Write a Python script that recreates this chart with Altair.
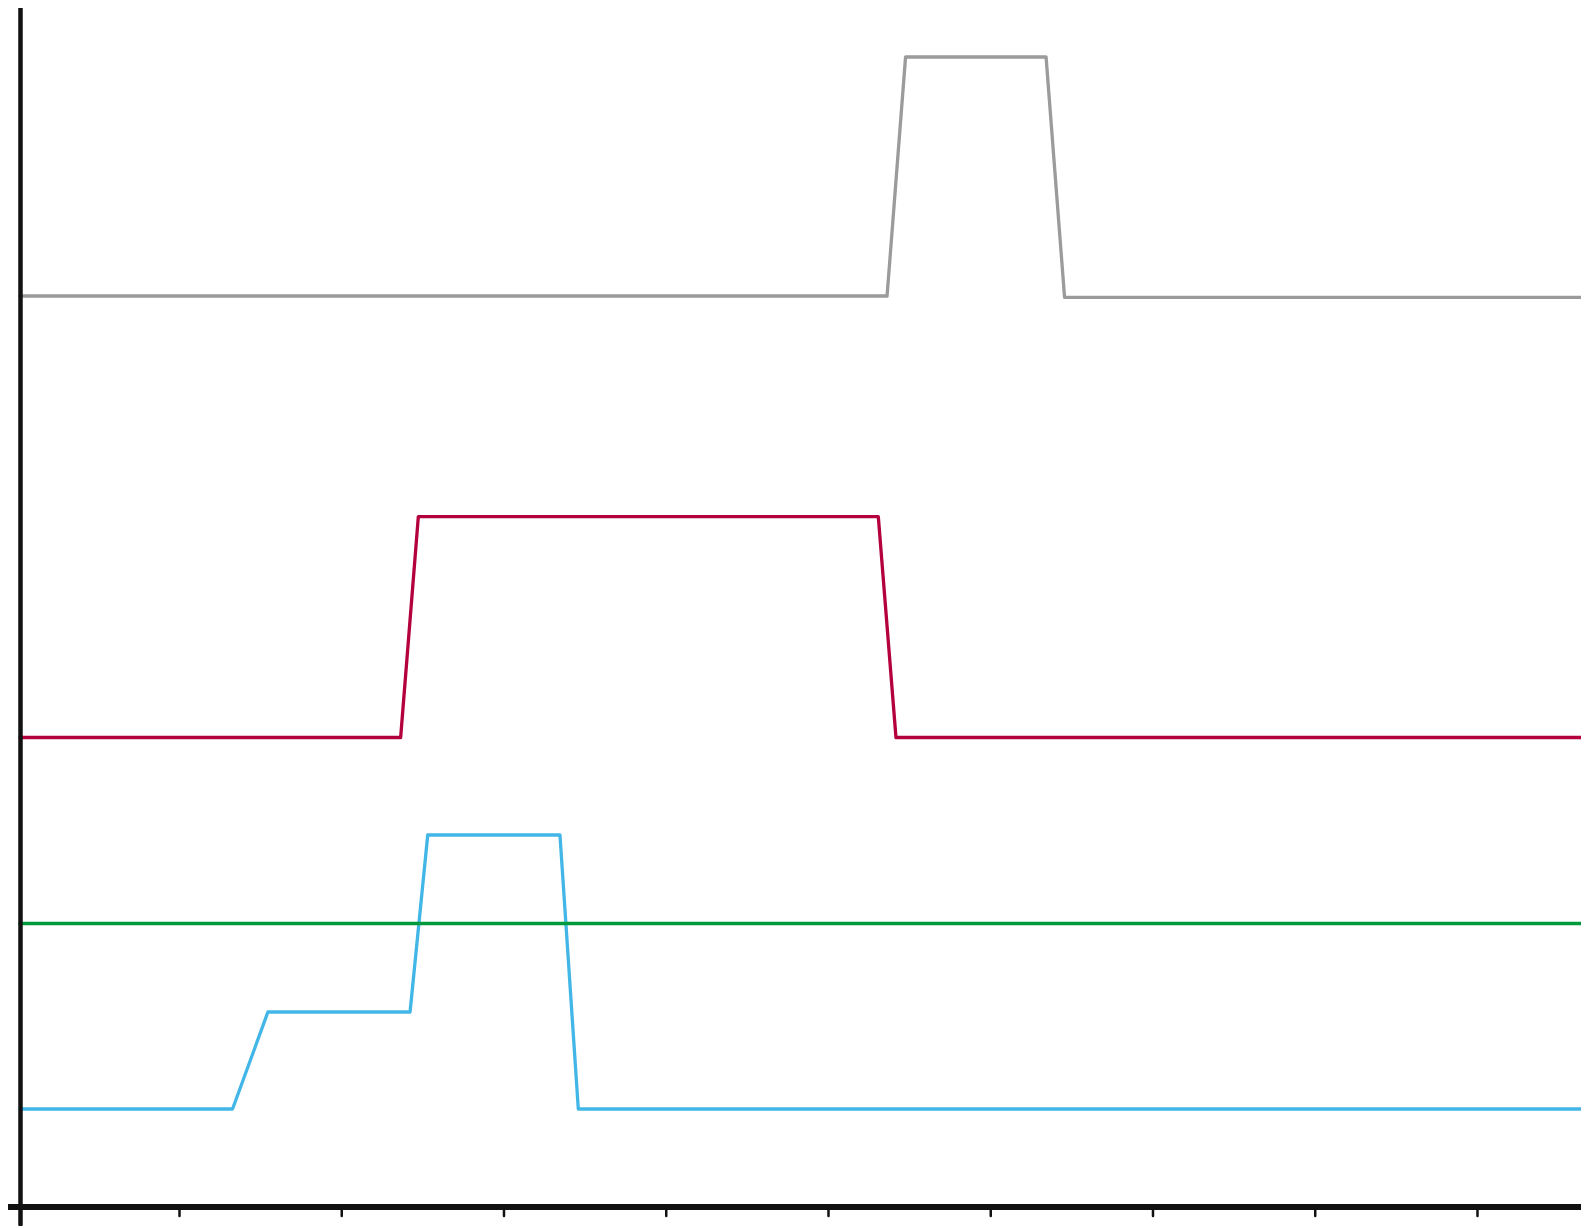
import altair as alt
import pandas as pd

# ---- data (time units on x, arbitrary level units on y) ----
gray_t = [0.017, 5.361, 5.475, 6.341, 6.455, 9.676]
gray_v = [91.1, 91.1, 115.0, 115.0, 90.97, 90.97]

crimson_t = [0.017, 2.363, 2.472, 5.307, 5.416, 9.676]
crimson_v = [46.95, 46.95, 69.03, 69.03, 46.95, 46.95]

green_t = [0.017, 9.676]
green_v = [28.35, 28.35]

blue_t = [0.017, 1.327, 1.545, 2.421, 2.530, 3.345, 3.458, 9.676]
blue_v = [9.8, 9.8, 19.5, 19.5, 37.2, 37.2, 9.8, 9.8]

tick_values = [1, 2, 3, 4, 5, 6, 7, 8, 9]

series = [
    ("gray", gray_t, gray_v, "#9b9b9b"),
    ("crimson", crimson_t, crimson_v, "#b5003f"),
    ("blue", blue_t, blue_v, "#42b6e6"),
    ("green", green_t, green_v, "#009a3c"),
]

W, H = 1573, 1218
X_DOMAIN = [-0.057, 9.638]
Y_DOMAIN = [-1.9, 119.9]
xs = alt.Scale(domain=X_DOMAIN, nice=False, zero=False)
ys = alt.Scale(domain=Y_DOMAIN, nice=False, zero=False)

layers = []

# axis lines
xaxis_df = pd.DataFrame({"t": [-0.09], "t2": [9.676], "v": [0.0]})
yaxis_df = pd.DataFrame({"t": [0.02], "v": [-1.75], "v2": [120.4]})
ticks_df = pd.DataFrame({"t": tick_values, "v": [0.0] * len(tick_values), "v2": [-0.9] * len(tick_values)})

layers.append(
    alt.Chart(ticks_df).mark_rule(color="#111111", strokeWidth=2.5, strokeCap="round").encode(
        x=alt.X("t:Q", scale=xs, axis=None),
        y=alt.Y("v:Q", scale=ys, axis=None),
        y2="v2:Q",
    )
)

for name, t, v, color in series:
    df = pd.DataFrame({"t": t, "v": v, "o": list(range(len(t)))})
    layers.append(
        alt.Chart(df).mark_line(
            color=color, strokeWidth=3.3, strokeCap="round", strokeJoin="round", clip=False
        ).encode(
            x=alt.X("t:Q", scale=xs, axis=None),
            y=alt.Y("v:Q", scale=ys, axis=None),
            order="o:Q",
        )
    )

layers.append(
    alt.Chart(yaxis_df).mark_rule(color="#111111", strokeWidth=4.5, strokeCap="round").encode(
        x=alt.X("t:Q", scale=xs, axis=None),
        y=alt.Y("v:Q", scale=ys, axis=None),
        y2="v2:Q",
    )
)
layers.append(
    alt.Chart(xaxis_df).mark_rule(color="#111111", strokeWidth=6, strokeCap="round").encode(
        x=alt.X("t:Q", scale=xs, axis=None),
        x2="t2:Q",
        y=alt.Y("v:Q", scale=ys, axis=None),
    )
)

chart = alt.layer(*layers).properties(
    width=W,
    height=H,
    autosize=alt.AutoSizeParams(type="none"),
    padding=0,
    background="white",
).configure_view(stroke=None)

chart.save("out.html", embed_options={"renderer": "svg", "actions": False})
